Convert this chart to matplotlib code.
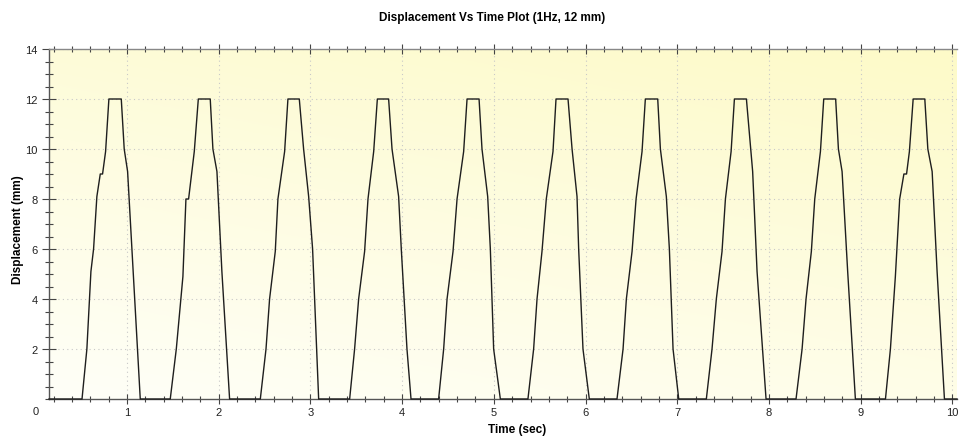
import matplotlib
matplotlib.use("Agg")
import matplotlib.pyplot as plt
import numpy as np
from matplotlib.ticker import MultipleLocator, FixedLocator

# displacement trace (piecewise linear)
time_s = [0.15, 0.51, 0.563, 0.607, 0.636, 0.672, 0.709, 0.734, 0.767, 0.803, 0.938, 0.97, 1.007, 1.145,
          1.472, 1.538, 1.61, 1.643, 1.672, 1.734, 1.778, 1.908, 1.937, 1.981, 2.035, 2.119,
          2.454, 2.516, 2.555, 2.617, 2.646, 2.719, 2.755, 2.879, 2.926, 2.981, 3.024, 3.09,
          3.428, 3.482, 3.526, 3.591, 3.628, 3.69, 3.73, 3.853, 3.89, 3.962, 3.991, 4.053, 4.097,
          4.398, 4.453, 4.49, 4.555, 4.599, 4.671, 4.708, 4.839, 4.871, 4.933, 4.962, 4.998, 5.071,
          5.372, 5.434, 5.471, 5.525, 5.572, 5.645, 5.678, 5.809, 5.853, 5.907, 5.925, 5.972, 6.041,
          6.343, 6.409, 6.445, 6.507, 6.551, 6.616, 6.652, 6.787, 6.816, 6.881, 6.914, 6.954, 7.016,
          7.317, 7.379, 7.426, 7.488, 7.525, 7.587, 7.623, 7.754, 7.822, 7.87, 7.968,
          8.295, 8.361, 8.404, 8.462, 8.499, 8.561, 8.597, 8.727, 8.757, 8.797, 8.858, 8.942,
          9.27, 9.324, 9.378, 9.425, 9.471, 9.5, 9.531, 9.572, 9.699, 9.732, 9.779, 9.833, 9.913, 10.05]
disp_mm = [0, 0, 2, 5.1, 6, 8.1, 9, 9, 9.9, 12, 12, 10, 9.1, 0,
           0, 2, 4.9, 8, 8, 9.9, 12, 12, 10, 9.1, 5.1, 0,
           0, 2, 4, 5.9, 8, 9.9, 12, 12, 10, 8.1, 6, 0,
           0, 2, 4, 5.9, 8, 9.9, 12, 12, 10, 8.1, 6, 2, 0,
           0, 2, 4, 5.9, 8, 9.9, 12, 12, 10, 8.1, 6, 2, 0,
           0, 2, 4, 5.9, 8, 9.9, 12, 12, 10, 8.1, 6, 2, 0,
           0, 2, 4, 5.9, 8, 9.9, 12, 12, 10, 8.1, 6, 2, 0,
           0, 2, 4, 5.9, 8, 9.9, 12, 12, 9.1, 5.1, 0,
           0, 2, 4, 5.9, 8, 9.9, 12, 12, 10, 9.1, 5.1, 0,
           0, 2, 4.9, 8, 9, 9, 9.9, 12, 12, 10, 9.1, 5.1, 0, 0]

x_major = [1, 2, 3, 4, 5, 6, 7, 8, 9, 10]
y_major = [2, 4, 6, 8, 10, 12, 14]

W, H = 959, 439
fig = plt.figure(figsize=(W / 100, H / 100), dpi=100)
ax = fig.add_axes([49 / W, 1 - 400 / H, 908 / W, 350 / H])

# yellow gradient background (white bottom-left -> yellow top-right)
gx, gy = np.meshgrid(np.linspace(0, 1, 200), np.linspace(0, 1, 200))
g = np.clip((gx * 0.5 + gy * 1.0) / 1.5, 0, 1)
c0 = np.array([255, 255, 248]) / 255
c1 = np.array([253, 250, 200]) / 255
img = c0 + (c1 - c0) * g[..., None]
ax.imshow(img, extent=[0, 1, 0, 1], transform=ax.transAxes, origin="lower",
          aspect="auto", zorder=0)

ax.plot(time_s, disp_mm, color="#1e1e1e", lw=1.0, zorder=3, clip_on=False)

ax.set_xlim(0.15, 10.05)
ax.set_ylim(0, 14)

ax.xaxis.set_major_locator(FixedLocator(x_major))
ax.xaxis.set_minor_locator(MultipleLocator(0.2))
ax.yaxis.set_major_locator(FixedLocator(y_major))
ax.yaxis.set_minor_locator(MultipleLocator(0.5))

ax.grid(True, which="major", color="#c8c8c8", linestyle=(0, (1, 3)), lw=0.8, zorder=1)

ax.spines["right"].set_visible(False)
for s in ["left", "bottom", "top"]:
    ax.spines[s].set_color("#555555")
    ax.spines[s].set_linewidth(1.0)
ax.spines["top"].set_color("#888888")

ax.tick_params(axis="x", which="major", direction="inout", length=7, width=0.8,
               color="#444444", labelsize=8, pad=2, top=True, labelcolor="#222222")
ax.tick_params(axis="x", which="minor", direction="inout", length=4, width=0.8,
               color="#444444", top=True)
ax.tick_params(axis="y", which="major", direction="inout", length=10, width=0.8,
               color="#444444", labelsize=8, pad=3, labelcolor="#222222")
ax.tick_params(axis="y", which="minor", direction="inout", length=6, width=0.8,
               color="#444444")

for lab in ax.get_xticklabels() + ax.get_yticklabels():
    lab.set_fontfamily("Liberation Sans")

# the "0" label sits left of the plot area
fig.text(36 / W, 1 - 412 / H, "0", ha="center", va="center", fontsize=8,
         color="#222222", family="Liberation Sans")

ax.set_xlabel("Time (sec)", fontsize=8.5, fontweight="bold", family="Liberation Sans")
ax.xaxis.set_label_coords(0.516, -0.068)
ax.set_ylabel("Displacement (mm)", fontsize=8.5, fontweight="bold", family="Liberation Sans")
ax.yaxis.set_label_coords(-0.027, 0.486)

fig.text(492 / W, 1 - 18 / H, "Displacement Vs Time Plot (1Hz, 12 mm)", ha="center",
         va="center", fontsize=8.5, fontweight="bold",
         family=["Liberation Sans Narrow", "Liberation Sans"])

fig.savefig("out.png", dpi=100, facecolor="white")
